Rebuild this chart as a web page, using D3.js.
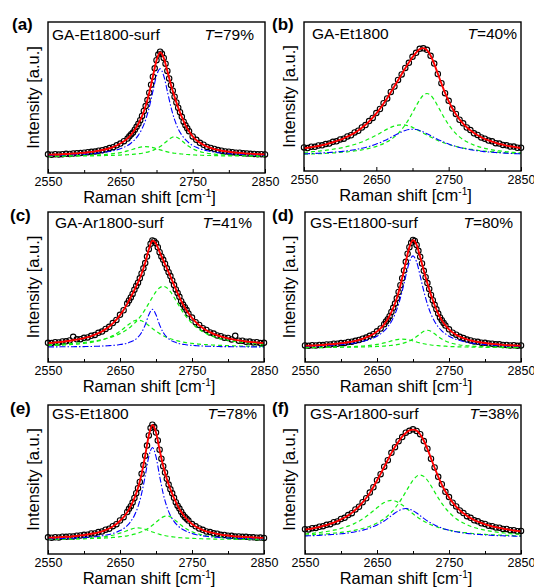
<!DOCTYPE html>
<html>
<head>
<meta charset="utf-8">
<script src="https://cdn.jsdelivr.net/npm/d3@7"></script>
<style>
body { margin: 0; background: #fff; }
text { font-family: "Liberation Sans", Arial, sans-serif; fill: #000; }
</style>
</head>
<body>
<div class="chart"></div>
<script>
// Raman shift grid of the spectra (cm-1)
var shift = d3.range(2550, 2851, 5);
// extra measured points on the steep flanks (half-step positions)
var midShift = d3.range(2662.5, 2745, 5);
var tickLabels = [2550, 2650, 2750, 2850];
var minorTicks = [2600, 2700, 2800];

var tags = ["(a)", "(b)", "(c)", "(d)", "(e)", "(f)"];
var samples = ["GA-Et1800-surf", "GA-Et1800", "GA-Ar1800-surf", "GS-Et1800-surf", "GS-Et1800", "GS-Ar1800-surf"];
var transmittance = ["79%", "40%", "41%", "80%", "78%", "38%"];
var baseline = [11, 10, 11, 10.5, 9.5, 11];

// (a) GA-Et1800-surf
var measuredA = [12.4,12.1,12.5,12.2,12.5,12.7,12.6,12.9,13.1,13.2,13.4,13.8,14.0,14.2,14.8,15.1,15.7,16.5,17.1,18.3,19.5,21.1,22.8,25.6,28.7,32.6,37.8,44.3,53.2,63.8,74.7,80.3,76.2,67.6,58.2,50.5,43.2,37.2,31.6,27.7,24.2,22.0,20.0,18.7,17.3,16.6,15.9,15.2,14.8,14.3,14.1,13.8,13.4,13.4,13.0,12.9,12.7,12.6,12.4,12.5,12.3];
var midA = [24.3,26.8,30.6,35.0,41.1,48.3,58.5,69.3,78.4,79.0,72.4,62.6,54.5,46.7,40.3,34.0,29.7];
var blueA = [0.7,0.7,0.8,0.8,0.9,1.0,1.1,1.1,1.2,1.4,1.5,1.6,1.8,2.0,2.2,2.5,2.8,3.2,3.7,4.3,5.1,6.0,7.2,8.9,11.1,14.1,18.3,24.3,32.6,43.1,53.4,58.0,53.4,43.1,32.6,24.3,18.3,14.1,11.1,8.9,7.2,6.0,5.1,4.3,3.7,3.2,2.8,2.5,2.2,2.0,1.8,1.6,1.5,1.4,1.2,1.1,1.1,1.0,0.9,0.8,0.8];
var greenA1 = [0.3,0.3,0.3,0.3,0.4,0.4,0.4,0.5,0.5,0.6,0.6,0.7,0.8,0.9,1.0,1.2,1.3,1.6,1.8,2.1,2.5,3.0,3.6,4.3,5.1,5.8,6.3,6.5,6.3,5.8,5.1,4.3,3.6,3.0,2.5,2.1,1.8,1.6,1.3,1.2,1.0,0.9,0.8,0.7,0.6,0.6,0.5,0.5,0.4,0.4,0.4,0.3,0.3,0.3,0.3,0.2,0.2,0.2,0.2,0.2,0.2];
var greenA2 = [0.2,0.2,0.2,0.2,0.2,0.2,0.2,0.3,0.3,0.3,0.3,0.4,0.4,0.4,0.5,0.5,0.6,0.6,0.7,0.8,0.9,1.0,1.1,1.3,1.5,1.8,2.1,2.6,3.2,4.0,5.1,6.5,8.3,10.4,12.2,13.0,12.2,10.4,8.3,6.5,5.1,4.0,3.2,2.6,2.1,1.8,1.5,1.3,1.1,1.0,0.9,0.8,0.7,0.6,0.6,0.5,0.5,0.4,0.4,0.4,0.3];

// (b) GA-Et1800
var measuredB = [15.8,15.4,16.3,16.2,17.1,17.2,18.1,18.4,19.6,19.9,21.2,21.7,23.2,24.0,25.9,27.0,29.2,30.8,33.5,35.6,38.9,41.6,45.5,48.7,53.1,56.7,61.1,64.8,69.2,72.6,76.6,79.3,82.0,82.3,81.3,77.3,72.1,65.1,58.9,52.2,47.1,41.9,38.3,34.4,32.0,29.2,27.5,25.3,24.2,22.5,21.7,20.4,19.9,18.7,18.4,17.5,17.2,16.4,16.4,15.6,15.6];
var midB = [];
var blueB = [1.5,1.6,1.7,1.8,1.9,2.1,2.2,2.4,2.6,2.8,3.0,3.3,3.6,3.9,4.3,4.8,5.3,5.8,6.5,7.2,8.1,9.0,10.1,11.2,12.5,13.8,15.0,16.2,17.2,17.8,18.0,17.8,17.2,16.2,15.0,13.8,12.5,11.2,10.1,9.0,8.1,7.2,6.5,5.8,5.3,4.8,4.3,3.9,3.6,3.3,3.0,2.8,2.6,2.4,2.2,2.1,1.9,1.8,1.7,1.6,1.5];
var greenB1 = [2.5,2.7,2.9,3.1,3.3,3.6,3.9,4.2,4.6,5.0,5.4,5.9,6.5,7.1,7.8,8.6,9.5,10.5,11.6,12.8,14.1,15.4,16.8,18.1,19.3,20.2,20.8,21.0,20.8,20.2,19.3,18.1,16.8,15.4,14.1,12.8,11.6,10.5,9.5,8.6,7.8,7.1,6.5,5.9,5.4,5.0,4.6,4.2,3.9,3.6,3.3,3.1,2.9,2.7,2.5,2.4,2.2,2.1,2.0,1.9,1.8];
var greenB2 = [1.3,1.3,1.4,1.5,1.6,1.7,1.8,2.0,2.1,2.3,2.5,2.7,2.9,3.2,3.5,3.8,4.2,4.7,5.2,5.8,6.5,7.4,8.4,9.6,11.1,12.9,15.1,17.8,21.0,24.8,29.1,33.6,37.8,40.9,42.0,40.9,37.8,33.6,29.1,24.8,21.0,17.8,15.1,12.9,11.1,9.6,8.4,7.4,6.5,5.8,5.2,4.7,4.2,3.8,3.5,3.2,2.9,2.7,2.5,2.3,2.1];

// (c) GA-Ar1800-surf
var measuredC = [14.2,14.0,14.7,14.5,15.2,15.3,15.9,18.6,16.8,16.9,17.9,18.2,19.4,20.0,21.6,22.5,24.5,26.0,28.8,31.1,34.9,38.3,43.2,47.8,53.5,58.7,65.5,73.2,83.5,89.9,87.9,81.2,75.6,69.3,63.6,56.9,51.1,45.0,40.5,35.9,32.9,29.5,27.4,25.0,23.7,21.9,21.0,19.6,19.1,18.0,17.8,16.7,19.4,15.8,15.8,15.0,15.1,14.5,14.6,14.0,14.2];
var midC = [45.6,50.4,56.3,61.9,69.3,78.0,87.5,89.4,84.9,78.1,72.7,66.4,60.4,53.7,48.2,42.5,38.4];
var blueC = [0.2,0.2,0.2,0.2,0.3,0.3,0.3,0.3,0.4,0.4,0.4,0.5,0.5,0.6,0.7,0.8,0.9,1.1,1.3,1.5,1.9,2.3,2.9,3.9,5.2,7.4,10.9,16.5,23.9,28.0,23.9,16.5,10.9,7.4,5.2,3.9,2.9,2.3,1.9,1.5,1.3,1.1,0.9,0.8,0.7,0.6,0.5,0.5,0.4,0.4,0.4,0.3,0.3,0.3,0.3,0.2,0.2,0.2,0.2,0.2,0.2];
var greenC1 = [1.1,1.2,1.3,1.4,1.5,1.7,1.8,2.0,2.2,2.5,2.8,3.1,3.5,4.0,4.6,5.3,6.2,7.2,8.5,10.0,11.8,13.8,16.0,18.0,19.5,20.0,19.5,18.0,16.0,13.8,11.8,10.0,8.5,7.2,6.2,5.3,4.6,4.0,3.5,3.1,2.8,2.5,2.2,2.0,1.8,1.7,1.5,1.4,1.3,1.2,1.1,1.0,0.9,0.9,0.8,0.8,0.7,0.7,0.6,0.6,0.6];
var greenC2 = [1.7,1.8,2.0,2.1,2.2,2.4,2.6,2.8,3.0,3.2,3.5,3.8,4.2,4.6,5.1,5.6,6.2,6.9,7.8,8.8,10.0,11.4,13.1,15.1,17.6,20.5,23.9,27.9,32.4,36.9,41.0,43.9,45.0,43.9,41.0,36.9,32.4,27.9,23.9,20.5,17.6,15.1,13.1,11.4,10.0,8.8,7.8,6.9,6.2,5.6,5.1,4.6,4.2,3.8,3.5,3.2,3.0,2.8,2.6,2.4,2.2];

// (d) GS-Et1800-surf
var measuredD = [12.3,12.0,12.4,12.2,12.6,12.5,13.0,13.0,13.5,13.5,14.0,14.1,14.8,15.0,15.7,16.3,17.2,18.1,19.4,20.6,22.7,24.8,28.0,31.7,37.0,43.2,51.8,62.0,74.1,84.9,90.3,86.6,77.8,67.5,58.4,49.6,42.3,35.8,30.9,27.0,24.2,21.7,20.2,18.6,17.7,16.6,16.0,15.2,14.9,14.3,14.2,13.6,13.5,13.1,13.1,12.6,12.6,12.3,12.4,12.0,12.2];
var midD = [29.9,33.9,40.1,47.1,56.8,67.8,80.1,88.2,89.6,82.3,72.9,62.7,54.1,45.7,39.0,33.0,28.9];
var blueD = [1.1,1.1,1.2,1.3,1.4,1.5,1.7,1.8,2.0,2.2,2.4,2.6,2.9,3.2,3.6,4.1,4.7,5.4,6.2,7.2,8.6,10.3,12.5,15.5,19.5,24.9,32.3,41.9,53.2,63.6,68.0,63.6,53.2,41.9,32.3,24.9,19.5,15.5,12.5,10.3,8.6,7.2,6.2,5.4,4.7,4.1,3.6,3.2,2.9,2.6,2.4,2.2,2.0,1.8,1.7,1.5,1.4,1.3,1.2,1.1,1.1];
var greenD1 = [0.3,0.3,0.3,0.3,0.4,0.4,0.4,0.5,0.5,0.6,0.6,0.7,0.8,0.9,1.0,1.2,1.3,1.6,1.8,2.1,2.5,3.0,3.6,4.3,5.1,5.8,6.3,6.5,6.3,5.8,5.1,4.3,3.6,3.0,2.5,2.1,1.8,1.6,1.3,1.2,1.0,0.9,0.8,0.7,0.6,0.6,0.5,0.5,0.4,0.4,0.4,0.3,0.3,0.3,0.3,0.2,0.2,0.2,0.2,0.2,0.2];
var greenD2 = [0.2,0.2,0.2,0.2,0.2,0.2,0.3,0.3,0.3,0.3,0.4,0.4,0.4,0.5,0.5,0.6,0.6,0.7,0.8,0.9,1.0,1.1,1.3,1.5,1.8,2.1,2.6,3.2,4.0,5.1,6.5,8.3,10.4,12.2,13.0,12.2,10.4,8.3,6.5,5.1,4.0,3.2,2.6,2.1,1.8,1.5,1.3,1.1,1.0,0.9,0.8,0.7,0.6,0.6,0.5,0.5,0.4,0.4,0.4,0.3,0.3];

// (e) GS-Et1800
var measuredE = [11.2,10.9,11.3,11.1,11.6,11.5,11.8,11.8,12.3,12.4,12.9,13.0,13.8,13.8,14.7,15.1,16.3,17.0,18.7,20.0,22.5,24.7,28.2,32.1,37.6,44.2,53.8,66.0,79.6,86.8,81.5,70.0,58.9,50.5,43.4,37.7,32.4,28.4,24.9,22.4,20.1,18.6,17.1,16.2,15.1,14.7,13.9,13.6,12.9,12.8,12.3,12.2,11.7,11.8,11.5,11.5,11.2,11.2,10.9,11.0,10.8];
var midE = [30.3,34.5,40.8,48.4,59.7,72.8,84.6,85.2,76.2,64.0,54.7,46.6,40.7,34.8,30.5,26.3,23.7];
var blueE = [0.7,0.7,0.8,0.8,0.9,1.0,1.0,1.1,1.2,1.4,1.5,1.7,1.9,2.1,2.4,2.7,3.1,3.6,4.3,5.1,6.2,7.6,9.6,12.4,16.4,22.3,31.0,42.9,55.8,62.0,55.8,42.9,31.0,22.3,16.4,12.4,9.6,7.6,6.2,5.1,4.3,3.6,3.1,2.7,2.4,2.1,1.9,1.7,1.5,1.4,1.2,1.1,1.0,1.0,0.9,0.8,0.8,0.7,0.7,0.6,0.6];
var greenE1 = [0.4,0.4,0.4,0.5,0.5,0.6,0.6,0.7,0.8,0.9,1.0,1.1,1.3,1.4,1.6,1.9,2.2,2.6,3.1,3.7,4.5,5.3,6.2,7.1,7.8,8.0,7.8,7.1,6.2,5.3,4.5,3.7,3.1,2.6,2.2,1.9,1.6,1.4,1.3,1.1,1.0,0.9,0.8,0.7,0.6,0.6,0.5,0.5,0.4,0.4,0.4,0.4,0.3,0.3,0.3,0.3,0.3,0.2,0.2,0.2,0.2];
var greenE2 = [0.4,0.4,0.4,0.4,0.5,0.5,0.5,0.6,0.6,0.7,0.7,0.8,0.9,0.9,1.0,1.1,1.3,1.4,1.6,1.8,2.1,2.4,2.7,3.2,3.8,4.5,5.4,6.6,8.0,9.8,11.8,13.8,15.4,16.0,15.4,13.8,11.8,9.8,8.0,6.6,5.4,4.5,3.8,3.2,2.7,2.4,2.1,1.8,1.6,1.4,1.3,1.1,1.0,0.9,0.9,0.8,0.7,0.7,0.6,0.6,0.5];

// (f) GS-Ar1800-surf
var measuredF = [16.6,16.5,17.3,17.5,18.3,18.7,19.6,20.0,21.3,21.8,23.5,24.3,26.1,27.4,29.9,31.7,34.8,37.4,41.2,44.8,49.5,53.6,58.6,63.0,67.9,71.7,75.7,78.5,81.4,82.7,83.7,82.6,80.4,75.8,70.7,64.0,58.1,51.8,46.8,41.7,38.2,34.4,31.9,29.2,27.5,25.4,24.3,22.6,21.9,20.6,20.2,19.0,18.7,17.8,17.7,16.8,16.8,16.0,16.0,15.3,15.5];
var midF = [];
var blueF = [1.1,1.2,1.3,1.4,1.5,1.7,1.8,2.0,2.1,2.3,2.6,2.8,3.1,3.5,3.9,4.4,5.0,5.6,6.4,7.4,8.5,9.8,11.2,12.9,14.7,16.5,18.0,19.1,19.5,19.1,18.0,16.5,14.7,12.9,11.2,9.8,8.5,7.4,6.4,5.6,5.0,4.4,3.9,3.5,3.1,2.8,2.6,2.3,2.1,2.0,1.8,1.7,1.5,1.4,1.3,1.2,1.1,1.1,1.0,0.9,0.9];
var greenF1 = [2.5,2.7,2.9,3.2,3.4,3.8,4.1,4.5,5.0,5.5,6.2,6.9,7.7,8.6,9.8,11.0,12.5,14.2,16.0,18.0,20.0,21.9,23.5,24.6,25.0,24.6,23.5,21.9,20.0,18.0,16.0,14.2,12.5,11.0,9.8,8.6,7.7,6.9,6.2,5.5,5.0,4.5,4.1,3.8,3.4,3.2,2.9,2.7,2.5,2.3,2.2,2.0,1.9,1.8,1.7,1.6,1.5,1.4,1.3,1.2,1.2];
var greenF2 = [1.7,1.8,1.9,2.1,2.2,2.4,2.5,2.7,3.0,3.2,3.5,3.8,4.1,4.5,5.0,5.5,6.1,6.8,7.6,8.6,9.8,11.1,12.7,14.7,17.0,19.8,23.0,26.7,30.7,34.8,38.5,41.1,42.0,41.1,38.5,34.8,30.7,26.7,23.0,19.8,17.0,14.7,12.7,11.1,9.8,8.6,7.6,6.8,6.1,5.5,5.0,4.5,4.1,3.8,3.5,3.2,3.0,2.7,2.5,2.4,2.2];

var measured = [measuredA, measuredB, measuredC, measuredD, measuredE, measuredF];
var measuredMid = [midA, midB, midC, midD, midE, midF];
var blue = [blueA, blueB, blueC, blueD, blueE, blueF];
var green = [[greenA1, greenA2], [greenB1, greenB2], [greenC1, greenC2],
             [greenD1, greenD2], [greenE1, greenE2], [greenF1, greenF2]];

// layout of the six frames
var boxes = [
  {x0: 48,  x1: 265, y0: 22,  y1: 173, top: 100},
  {x0: 304, x1: 521, y0: 22,  y1: 171, top: 100},
  {x0: 48,  x1: 264, y0: 212, y1: 362, top: 111},
  {x0: 305, x1: 521, y0: 212, y1: 362, top: 111},
  {x0: 48,  x1: 264, y0: 405, y1: 554, top: 100},
  {x0: 305, x1: 521, y0: 405, y1: 554, top: 100}
];
var labelPos = [
  {tx: 12, ty: 30, nx: 52, ny: 40, te: 254, yt: 39},
  {tx: 272, ty: 30, nx: 312, ny: 39, te: 517, yt: 295},
  {tx: 10, ty: 221, nx: 55, ny: 228, te: 252, yt: 39},
  {tx: 272, ty: 221, nx: 310, ny: 228, te: 513, yt: 295},
  {tx: 10, ty: 414, nx: 52, ny: 419, te: 257, yt: 39},
  {tx: 272, ty: 414, nx: 310, ny: 419, te: 519, yt: 295}
];

var svg = d3.select(".chart").append("svg")
            .attr("width", 534)
            .attr("height", 587);

tags.forEach(function(tag, i){
  var b = boxes[i], L = labelPos[i];
  var x = d3.scaleLinear().domain([2550, 2850]).range([b.x0, b.x1]);
  var y = d3.scaleLinear().domain([0, b.top]).range([b.y1, b.y0]);
  var g = svg.append("g");
  var base = baseline[i];

  // measured spectrum (open circles)
  var pts = measured[i].map(function(v, j){ return {s: shift[j], v: v}; })
              .concat(measuredMid[i].map(function(v, j){ return {s: midShift[j], v: v}; }));
  g.selectAll("circle").data(pts).enter()
   .append("circle")
   .attr("cx", function(d){ return x(d.s); })
   .attr("cy", function(d){ return y(d.v); })
   .attr("r", 2.7)
   .attr("fill", "none")
   .attr("stroke", "#000")
   .attr("stroke-width", 1.1);

  var comp = d3.line()
               .x(function(d, j){ return x(shift[j]); })
               .y(function(d){ return y(base + d); })
               .curve(d3.curveMonotoneX);

  green[i].forEach(function(arr){
    g.append("path").attr("d", comp(arr))
     .attr("fill", "none").attr("stroke", "#11ee11")
     .attr("stroke-width", 1.2).attr("stroke-dasharray", "4,3");
  });
  g.append("path").attr("d", comp(blue[i]))
   .attr("fill", "none").attr("stroke", "#0000ff")
   .attr("stroke-width", 1.1).attr("stroke-dasharray", "6,2,1.5,2");

  // cumulative fit = baseline + all components
  var fit = shift.map(function(s, j){
    return blue[i][j] + green[i][0][j] + green[i][1][j];
  });
  g.append("path").attr("d", comp(fit))
   .attr("fill", "none").attr("stroke", "#ff0000").attr("stroke-width", 1.9);

  // frame
  g.append("rect")
   .attr("x", b.x0).attr("y", b.y0)
   .attr("width", b.x1 - b.x0).attr("height", b.y1 - b.y0)
   .attr("fill", "none").attr("stroke", "#000").attr("stroke-width", 1.4);

  // x axis, ticks pointing inwards
  var ax = g.append("g").attr("transform", "translate(0," + b.y1 + ")")
            .call(d3.axisBottom(x).tickValues(tickLabels).tickSize(-4).tickPadding(4)
                    .tickFormat(d3.format("d")));
  ax.select(".domain").remove();
  ax.selectAll("text").style("font-size", "12.5px")
    .style("font-family", "'Liberation Sans', Arial, sans-serif");
  var mx = g.append("g").attr("transform", "translate(0," + b.y1 + ")")
            .call(d3.axisBottom(x).tickValues(minorTicks).tickSize(-3).tickFormat(""));
  mx.select(".domain").remove();
  g.selectAll(".tick line").attr("stroke", "#000").attr("stroke-width", 1);

  // titles
  var xt = g.append("text")
            .attr("x", (b.x0 + b.x1) / 2 - 7).attr("y", b.y1 + 30)
            .attr("text-anchor", "middle").style("font-size", "16.5px");
  xt.append("tspan").text("Raman shift [cm");
  xt.append("tspan").attr("dy", -6).style("font-size", "10px").text("-1");
  xt.append("tspan").attr("dy", 6).text("]");

  g.append("text")
   .attr("transform", "translate(" + L.yt + "," + (b.y0 + b.y1) / 2 + ") rotate(-90)")
   .attr("text-anchor", "middle").style("font-size", "16.5px")
   .text("Intensity [a.u.]");

  g.append("text").attr("x", L.tx).attr("y", L.ty)
   .style("font-size", "17px").style("font-weight", "bold").text(tag);

  g.append("text").attr("x", L.nx).attr("y", L.ny)
   .style("font-size", "15.5px").text(samples[i]);

  var tt = g.append("text").attr("x", L.te).attr("y", L.ny)
            .attr("text-anchor", "end").style("font-size", "15.5px");
  tt.append("tspan").style("font-style", "italic").text("T");
  tt.append("tspan").text("=" + transmittance[i]);
});
</script>
</body>
</html>
